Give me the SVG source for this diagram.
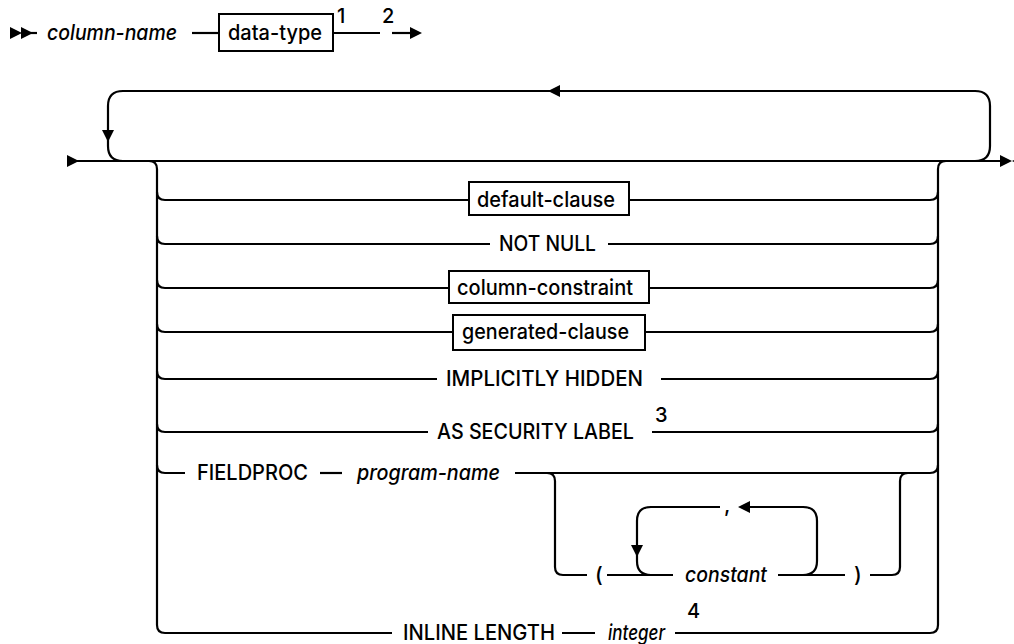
<svg xmlns="http://www.w3.org/2000/svg" width="1014" height="644" viewBox="0 0 1014 644">
<style>
.ln{fill:none;stroke:#000;stroke-width:2.2}
.bx{fill:#fff;stroke:#000;stroke-width:2}
.t{font-family:Inter,"Liberation Sans",Arial,sans-serif;font-weight:500;font-size:21px;fill:#000}
.i{font-style:italic}
.sup{font-family:Inter,"Liberation Sans",Arial,sans-serif;font-weight:500;font-size:20px;fill:#000}
.ah{fill:#000;stroke:none}
</style>
<rect width="1014" height="644" fill="#fff"/>
<g id="connectors">
<polygon class="ah" points="10,27 22,33 10,39"/>
<polygon class="ah" points="21,27 33,33 21,39"/>
<path class="ln" d="M30 33H37"/>
<path class="ln" d="M192 33H219"/>
<path class="ln" d="M333 33H380"/>
<path class="ln" d="M392 33H412"/>
<polygon class="ah" points="410,27 422,33 410,39"/>
<polygon class="ah" points="67,155 79,161 67,167"/>
<path class="ln" d="M76 161H1002"/>
<polygon class="ah" points="1000,155 1012,161 1000,167"/>
<polygon class="ah" points="1024,155 1012,161 1024,167"/>
<path class="ln" d="M975 161Q990 161 990 146V106Q990 91 975 91H123Q108 91 108 106V146Q108 161 123 161"/>
<polygon class="ah" points="560,85 548,91 560,97"/>
<polygon class="ah" points="102,130 108,142 114,130"/>
<path class="ln" d="M149 161Q157 161 157 169V625Q157 633 165 633H392"/>
<path class="ln" d="M946 161Q938 161 938 169V625Q938 633 930 633H675"/>
<path class="ln" d="M157 192Q157 200 165 200H469"/>
<path class="ln" d="M629 200H930Q938 200 938 192"/>
<path class="ln" d="M157 236Q157 244 165 244H490"/>
<path class="ln" d="M608 244H930Q938 244 938 236"/>
<path class="ln" d="M157 280Q157 288 165 288H449"/>
<path class="ln" d="M649 288H930Q938 288 938 280"/>
<path class="ln" d="M157 324Q157 332 165 332H453"/>
<path class="ln" d="M645 332H930Q938 332 938 324"/>
<path class="ln" d="M157 371Q157 379 165 379H437"/>
<path class="ln" d="M661 379H930Q938 379 938 371"/>
<path class="ln" d="M157 424Q157 432 165 432H428"/>
<path class="ln" d="M652 432H930Q938 432 938 424"/>
<path class="ln" d="M157 465Q157 473 165 473H185"/>
<path class="ln" d="M320 473H342"/>
<path class="ln" d="M515 473H930Q938 473 938 465"/>
<path class="ln" d="M562 633H595"/>
<path class="ln" d="M547 473Q555 473 555 481V567Q555 575 563 575H587"/>
<path class="ln" d="M607 575H673"/>
<path class="ln" d="M778 575H845"/>
<path class="ln" d="M870 575H892Q900 575 900 567V481Q900 473 908 473"/>
<path class="ln" d="M803 575Q817 575 817 561V521Q817 507 803 507H750"/>
<path class="ln" d="M720 507H651Q637 507 637 521V561Q637 575 651 575"/>
<polygon class="ah" points="750,501 738,507 750,513"/>
<polygon class="ah" points="631,545 637,557 643,545"/>
</g>
<g id="start">
<text class="t i" x="47" y="40" textLength="130" lengthAdjust="spacingAndGlyphs">column-name</text>
</g>
<g id="data-type">
<rect class="bx" x="219" y="14" width="114" height="37"/>
<text class="t" x="228" y="40" textLength="94" lengthAdjust="spacingAndGlyphs">data-type</text>
<text class="sup" x="337" y="23">1</text>
<text class="sup" x="382" y="23">2</text>
</g>
<g id="default-clause">
<rect class="bx" x="469" y="182" width="160" height="33"/>
<text class="t" x="477" y="207" textLength="138" lengthAdjust="spacingAndGlyphs">default-clause</text>
</g>
<g id="not-null">
<text class="t" x="499" y="251" textLength="97" lengthAdjust="spacingAndGlyphs">NOT NULL</text>
</g>
<g id="column-constraint">
<rect class="bx" x="449" y="271" width="200" height="32"/>
<text class="t" x="457" y="295" textLength="176" lengthAdjust="spacingAndGlyphs">column-constraint</text>
</g>
<g id="generated-clause">
<rect class="bx" x="453" y="315" width="192" height="35"/>
<text class="t" x="462" y="339" textLength="167" lengthAdjust="spacingAndGlyphs">generated-clause</text>
</g>
<g id="implicitly-hidden">
<text class="t" x="446" y="386" textLength="197" lengthAdjust="spacingAndGlyphs">IMPLICITLY HIDDEN</text>
</g>
<g id="as-security-label">
<text class="t" x="437" y="439" textLength="197" lengthAdjust="spacingAndGlyphs">AS SECURITY LABEL</text>
<text class="sup" x="655" y="422">3</text>
</g>
<g id="fieldproc">
<text class="t" x="197" y="480" textLength="111" lengthAdjust="spacingAndGlyphs">FIELDPROC</text>
<text class="t i" x="357" y="480" textLength="143" lengthAdjust="spacingAndGlyphs">program-name</text>
</g>
<g id="constant-list">
<text class="t" x="595" y="582">(</text>
<text class="t i" x="685" y="582" textLength="82" lengthAdjust="spacingAndGlyphs">constant</text>
<text class="t" x="724" y="512">,</text>
<text class="t" x="854" y="582">)</text>
</g>
<g id="inline-length">
<text class="t" x="403" y="640" textLength="152" lengthAdjust="spacingAndGlyphs">INLINE LENGTH</text>
<text class="t i" x="608" y="640" textLength="57" lengthAdjust="spacingAndGlyphs">integer</text>
<text class="sup" x="687" y="618">4</text>
</g>
</svg>
